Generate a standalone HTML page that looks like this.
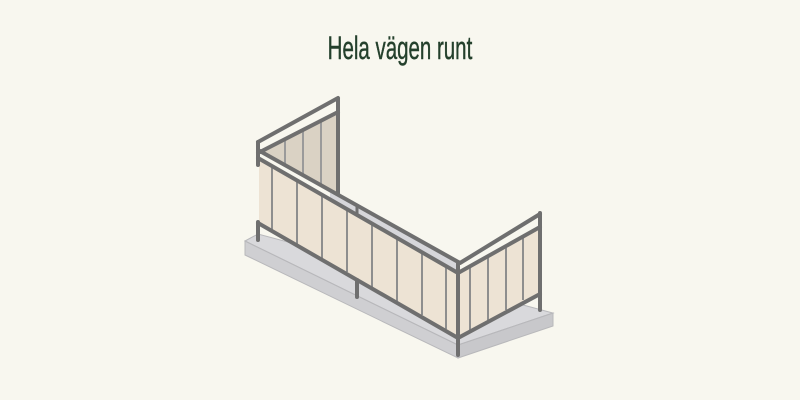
<!DOCTYPE html>
<html><head><meta charset="utf-8"><style>
html,body{margin:0;padding:0;background:#f8f7ef;}
body{width:800px;height:400px;overflow:hidden;position:relative;}
.t{position:absolute;left:0;width:800px;top:30px;text-align:center;font-family:"Liberation Sans",sans-serif;font-size:32px;color:#24402c;-webkit-text-stroke:0.4px #24402c;}
.t span{display:inline-block;transform:scaleX(0.64);}
</style></head><body>
<div class="t"><span>Hela vägen runt</span></div>
<svg width="800" height="400" style="position:absolute;left:0;top:0">
<!-- slab -->
<polygon points="245,241 258,234 553,313 458,345" fill="#d9d9dc"/>
<polygon points="245,241 458,345 458,358 245,255" fill="#cfcfd2" stroke="#b8b8bb" stroke-width="1"/>
<polygon points="458,345 553,313 553,326 458,358" fill="#c8c8cb" stroke="#b8b8bb" stroke-width="1"/>
<polygon points="245,241 258,234 553,313 458,345" fill="none" stroke="#b8b8bb" stroke-width="1"/>
<!-- back left panel -->
<polygon points="262,152 338,112 338,195" fill="#dad2c4"/>
<g stroke="#9a9a9a" stroke-width="2">
<line x1="285" y1="140" x2="285" y2="166"/><line x1="303" y1="130" x2="303" y2="176"/><line x1="321" y1="121" x2="321" y2="186"/>
</g>
<!-- back floor strip -->
<polygon points="330,191 458,263 458,274 330,205" fill="#d6d6da"/>
<!-- back long rail -->
<line x1="258" y1="150" x2="460" y2="263" stroke="#6f6f6f" stroke-width="4"/>
<line x1="338" y1="98" x2="338" y2="196" stroke="#6f6f6f" stroke-width="4"/>
<line x1="357" y1="205" x2="357" y2="215" stroke="#6f6f6f" stroke-width="3"/>
<!-- front panel -->
<polygon points="259,160 458,274 458,336 259,222" fill="#ede3d4"/>
<polygon points="458,274 540,227 540,295 458,336" fill="#ede3d4"/>
<g stroke="#8e8e8e" stroke-width="2">
<line x1="272" y1="168" x2="272" y2="230"/><line x1="297" y1="182" x2="297" y2="244"/><line x1="322" y1="196" x2="322" y2="258"/><line x1="347" y1="211" x2="347" y2="272"/><line x1="372" y1="225" x2="372" y2="287"/><line x1="397" y1="239" x2="397" y2="301"/><line x1="422" y1="253" x2="422" y2="315"/><line x1="446" y1="267" x2="446" y2="329"/>
<line x1="470" y1="268" x2="470" y2="330"/><line x1="488" y1="258" x2="488" y2="320"/><line x1="506" y1="248" x2="506" y2="310"/><line x1="523" y1="238" x2="523" y2="300"/>
</g>
<g stroke="#6f6f6f" stroke-width="4" fill="none" stroke-linecap="round" stroke-linejoin="round">
<polyline points="258,142 338,98"/>
<polyline points="258,153 338,112"/>
<line x1="258" y1="142" x2="258" y2="165"/>
<polyline points="258,158 458,273 540,227"/>
<polyline points="460,263 540,214"/>
<line x1="540" y1="213" x2="540" y2="310"/>
<line x1="458" y1="262" x2="458" y2="273"/>
<polyline points="258,223 458,338 540,294"/>
<line x1="258" y1="222" x2="258" y2="240"/>
<line x1="458" y1="272" x2="458" y2="355"/>
<line x1="357" y1="280" x2="357" y2="297"/>
</g>
</svg>
</body></html>
